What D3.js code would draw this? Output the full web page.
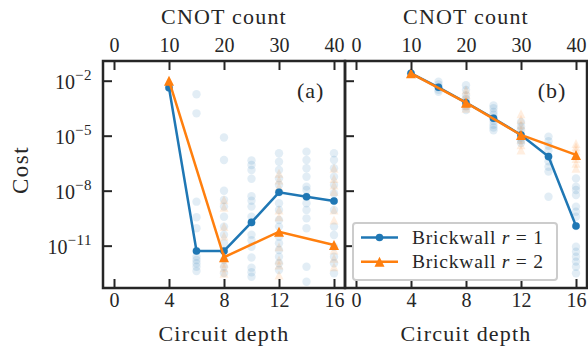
<!DOCTYPE html>
<html><head><meta charset="utf-8">
<script src="https://cdn.jsdelivr.net/npm/d3@7"></script>
<style>
body{margin:0;background:#fff}
text{font-family:"Liberation Serif","Times New Roman",serif;fill:#262626}
</style>
</head><body><svg id="c" width="588" height="350"></svg>
<script>
// ---- data (costs, stored as log10 of the cost) ----
const depths = [4, 6, 8, 10, 12, 14, 16];
const depthsR2 = [4, 8, 12, 16];
const depthTicks = [0, 4, 8, 12, 16];
const cnotTicks = [0, 10, 20, 30, 40];
const costTickExp = [-2, -5, -8, -11];
const seriesNames = ["r = 1", "r = 2"];

// best run per depth
const aR1 = [-2.38, -11.29, -11.29, -9.73, -8.09, -8.33, -8.56];
const aR2 = [-2.0, -11.63, -10.24, -10.96];
const bR1 = [-1.6, -2.36, -3.2, -4.05, -4.96, -6.14, -9.93];
const bR2 = [-1.6, -3.2, -4.96, -6.05];

// individual runs, one list per depth
const aRunsR1 = [
  [-2.38],
  [-2.74, -3.78, -8.6, -9.45, -10.05, -11.27, -11.6, -11.78, -11.96, -12.15, -12.38],
  [-5.1, -6.33, -8.0, -8.5, -8.87, -9.42, -9.96, -10.4, -10.87, -11.29, -11.78, -12.15, -12.5],
  [-6.35, -6.6, -6.87, -7.35, -8.3, -8.55, -8.87, -9.42, -9.73, -10.4, -10.7, -11.06, -11.65, -12.2, -12.45, -12.7],
  [-5.96, -6.42, -6.87, -7.33, -7.69, -8.09, -8.69, -9.05, -9.6, -9.96, -10.51, -10.87, -11.24, -11.6, -11.96, -12.33],
  [-5.87, -6.33, -6.78, -7.24, -7.78, -7.96, -8.33, -8.69, -9.05, -9.51, -10.05, -12.15, -12.97],
  [-5.96, -6.33, -6.78, -7.24, -7.69, -8.14, -8.56, -9.05, -9.96, -10.42, -11.06, -11.6, -11.96, -12.51]
];
const aRunsR2 = [
  [-2.0],
  [-8.5, -8.9, -9.96, -10.47, -11.63, -11.96, -12.2, -12.5],
  [-7.05, -7.42, -7.78, -9.05, -9.42, -10.24, -11.06, -11.78, -12.05, -12.6],
  [-6.78, -7.33, -7.69, -8.05, -9.05, -9.6, -10.96, -11.24, -11.69, -12.15]
];
const bRunsR1 = [
  [-1.6],
  [-2.05, -2.2, -2.36, -2.5, -2.6],
  [-2.25, -2.5, -2.8, -3.0, -3.2, -3.4, -3.6],
  [-3.35, -3.5, -3.7, -3.85, -4.05, -4.2, -4.4, -4.55, -4.7],
  [-4.25, -4.5, -4.7, -4.96, -5.1, -5.25, -5.4],
  [-5.05, -5.3, -5.55, -5.8, -6.14, -6.4, -6.7, -6.96, -8.33],
  [-7.33, -7.78, -7.96, -8.24, -8.87, -9.15, -9.42, -9.93, -11.06, -11.33, -11.6, -11.87, -12.15, -12.51]
];
const bRunsR2 = [
  [-1.6],
  [-2.5, -2.75, -3.0, -3.2, -3.35, -3.5],
  [-3.8, -4.1, -4.4, -4.7, -4.96, -5.2, -5.5, -5.78],
  [-5.42, -5.6, -5.8, -6.05, -6.25, -6.5, -6.78]
];

// ---- drawing ----
const BLUE = "#1f77b4", ORANGE = "#ff7f0e", INK = "#262626";
const svg = d3.select("#c");
const yTop = 61, yBot = 288;
const y = d3.scaleLog().domain([Math.pow(10, -13.31), Math.pow(10, -0.925)]).range([yBot, yTop]);
const pow = v => Math.pow(10, v);

function tri(m) { return `M0,${-m/2}L${m/2},${m/2}L${-m/2},${m/2}Z`; }

function panel(x0, x1, best1, best2, runs1, runs2, tag, showY) {
  const x = d3.scaleLinear().domain([-0.8, 16.8]).range([x0, x1]);
  const xc = d3.scaleLinear().domain([-0.8 * 2.5, 16.8 * 2.5]).range([x0, x1]);
  const g = svg.append("g");

  const pts1 = [];
  runs1.forEach((arr, i) => arr.forEach(v => pts1.push([depths[i], v])));
  const pts2 = [];
  runs2.forEach((arr, i) => arr.forEach(v => pts2.push([depthsR2[i], v])));
  g.selectAll("circle.run").data(pts1).join("circle")
    .attr("cx", d => x(d[0])).attr("cy", d => y(pow(d[1]))).attr("r", 4.2)
    .attr("fill", BLUE).attr("fill-opacity", 0.13);
  g.selectAll("path.run2").data(pts2).join("path")
    .attr("d", tri(9)).attr("transform", d => `translate(${x(d[0])},${y(pow(d[1]))})`)
    .attr("fill", ORANGE).attr("fill-opacity", 0.13);

  const line = d3.line().x(d => x(d[0])).y(d => y(pow(d[1])));
  const l1 = depths.map((d, i) => [d, best1[i]]);
  const l2 = depthsR2.map((d, i) => [d, best2[i]]);
  g.append("path").attr("d", line(l1)).attr("fill", "none").attr("stroke", BLUE).attr("stroke-width", 2.5);
  g.selectAll("circle.b").data(l1).join("circle")
    .attr("cx", d => x(d[0])).attr("cy", d => y(pow(d[1]))).attr("r", 3.8).attr("fill", BLUE);
  g.append("path").attr("d", line(l2)).attr("fill", "none").attr("stroke", ORANGE).attr("stroke-width", 2.5);
  g.selectAll("path.o").data(l2).join("path")
    .attr("d", tri(10)).attr("transform", d => `translate(${x(d[0])},${y(pow(d[1]))})`).attr("fill", ORANGE);

  const ax = svg.append("g");
  const bAx = ax.append("g").attr("transform", `translate(0,${yBot})`)
    .call(d3.axisBottom(x).tickValues(depthTicks).tickSizeInner(-9).tickSizeOuter(0).tickPadding(7));
  const tAx = ax.append("g").attr("transform", `translate(0,${yTop})`)
    .call(d3.axisTop(xc).tickValues(cnotTicks).tickSizeInner(-9).tickSizeOuter(0).tickPadding(8));
  const lAx = ax.append("g").attr("transform", `translate(${x0},0)`)
    .call(d3.axisLeft(y).tickValues(costTickExp.map(pow)).tickSizeInner(-9).tickSizeOuter(0).tickFormat(""));
  [bAx, tAx, lAx].forEach(a => {
    a.attr("font-family", null);
    a.select(".domain").remove();
    a.selectAll("line").attr("stroke", INK).attr("stroke-width", 2);
    a.selectAll("text").style("font-family", '"Liberation Serif",serif').style("font-size", "20px").attr("fill", INK);
  });
  bAx.selectAll("text").attr("dy", "0.62em");
  tAx.selectAll("text").attr("dy", "-0.05em");

  if (showY) {
    const yl = ax.append("g");
    costTickExp.forEach(e => {
      const t = yl.append("text").attr("x", x0 - 11).attr("y", y(pow(e)) + 8.5)
        .attr("text-anchor", "end").style("font-size", "20px");
      t.append("tspan").text("10");
      t.append("tspan").attr("dy", -9).style("font-size", "15px").attr("letter-spacing", "0.5px").text("−" + Math.abs(e));
    });
  }

  ax.append("rect").attr("x", x0).attr("y", yTop).attr("width", x1 - x0).attr("height", yBot - yTop)
    .attr("fill", "none").attr("stroke", INK).attr("stroke-width", 2.5);

  ax.append("text").attr("x", (x0 + x1) / 2).attr("y", 341).attr("text-anchor", "middle")
    .style("font-size", "22px").attr("letter-spacing", "1.2px").text("Circuit depth");
  ax.append("text").attr("x", (x0 + x1) / 2).attr("y", 23.5).attr("text-anchor", "middle")
    .style("font-size", "22px").attr("letter-spacing", "1.2px").text("CNOT count");
  ax.append("text").attr("x", x0 + 0.915 * (x1 - x0)).attr("y", 98).attr("text-anchor", "end")
    .style("font-size", "22px").attr("letter-spacing", "1px").text(tag);
  return x;
}

panel(103, 345, aR1, aR2, aRunsR1, aRunsR2, "(a)", true);
panel(345, 587, bR1, bR2, bRunsR1, bRunsR2, "(b)", false);

svg.append("text").attr("transform", "translate(28,170) rotate(-90)").attr("text-anchor", "middle")
  .style("font-size", "23px").attr("letter-spacing", "1.5px").text("Cost");

const lg = svg.append("g");
lg.append("rect").attr("x", 353).attr("y", 223).attr("width", 204).attr("height", 57).attr("rx", 3)
  .attr("fill", "#fff").attr("fill-opacity", 0.85).attr("stroke", "#cccccc").attr("stroke-width", 2);
seriesNames.forEach((nm, i) => {
  const yy = 237.5 + i * 24.3;
  const col = i === 0 ? BLUE : ORANGE;
  lg.append("line").attr("x1", 361).attr("x2", 398).attr("y1", yy).attr("y2", yy).attr("stroke", col).attr("stroke-width", 2.5);
  if (i === 0) lg.append("circle").attr("cx", 379.5).attr("cy", yy).attr("r", 3.8).attr("fill", col);
  else lg.append("path").attr("d", tri(10)).attr("transform", `translate(379.5,${yy})`).attr("fill", col);
  const t = lg.append("text").attr("x", 412).attr("y", yy + 6.5).style("font-size", "19.5px").attr("letter-spacing", "0.8px");
  t.append("tspan").text("Brickwall ");
  t.append("tspan").style("font-style", "italic").text("r");
  t.append("tspan").text(nm.slice(1));
});
</script></body></html>
